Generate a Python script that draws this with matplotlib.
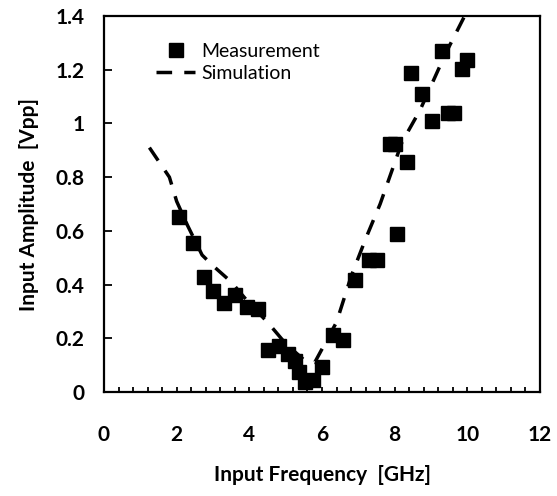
import matplotlib
matplotlib.use("Agg")
import matplotlib.pyplot as plt
from matplotlib.ticker import MultipleLocator, FuncFormatter

meas_x = [2.06, 2.46, 2.75, 3.01, 3.30, 3.60, 3.93, 4.24, 4.52, 4.82, 5.07, 5.25, 5.38, 5.53, 5.76, 6.00,
          6.29, 6.59, 6.91, 7.28, 7.50, 7.87, 8.01, 8.07, 8.33, 8.44, 8.74, 9.02, 9.29, 9.48, 9.62, 9.84, 9.98]
meas_y = [0.653, 0.556, 0.427, 0.376, 0.333, 0.361, 0.318, 0.308, 0.156, 0.172, 0.141, 0.115, 0.076, 0.038, 0.045, 0.093,
          0.212, 0.194, 0.417, 0.491, 0.491, 0.923, 0.923, 0.588, 0.855, 1.189, 1.109, 1.010, 1.271, 1.038, 1.038, 1.201, 1.236]

sim_x = [1.25, 1.8, 2.0, 2.3, 2.7, 3.0, 3.5, 4.0, 4.5, 5.0, 5.5, 5.8, 6.0, 6.4, 6.8, 7.2, 7.6, 8.2, 8.7, 9.4, 10.0]
sim_y = [0.91, 0.80, 0.71, 0.62, 0.51, 0.47, 0.41, 0.33, 0.26, 0.18, 0.12, 0.11, 0.16, 0.26, 0.43, 0.57, 0.70, 0.93, 1.05, 1.26, 1.42]

plt.rcParams['font.family'] = ['Lato', 'DejaVu Sans']

fig = plt.figure(figsize=(5.57, 4.96), dpi=100)
ax = fig.add_axes([0.1867, 0.2097, 0.7828, 0.758])

ax.plot(sim_x, sim_y, color='black', lw=2.5, dashes=(4.5, 3.5), label='Simulation', zorder=2)
ax.plot(meas_x, meas_y, 's', color='black', ms=9.5, label='Measurement', zorder=3, clip_on=False)

ax.set_xlim(0, 12)
ax.set_ylim(0, 1.4)
ax.xaxis.set_major_locator(MultipleLocator(2))
ax.xaxis.set_minor_locator(MultipleLocator(0.4))
ax.yaxis.set_major_locator(MultipleLocator(0.2))
ax.yaxis.set_major_formatter(FuncFormatter(lambda v, p: ('%.1f' % v).rstrip('0').rstrip('.') if v != 0 else '0'))

for s in ax.spines.values():
    s.set_linewidth(1.6)

ax.tick_params(axis='x', which='both', direction='in', length=3.5, width=1.3, pad=24, labelsize=15)
ax.tick_params(axis='y', which='major', direction='in', length=5.5, width=1.3, pad=14, labelsize=15)
for lab in ax.get_xticklabels() + ax.get_yticklabels():
    lab.set_fontweight('bold')

ax.set_xlabel('Input Frequency  [GHz]', fontsize=15, fontweight='bold', labelpad=14)
ax.set_ylabel('Input Amplitude  [Vpp]', fontsize=15, fontweight='bold', labelpad=12)

h, l = ax.get_legend_handles_labels()
leg = ax.legend([h[1], h[0]], [l[1], l[0]], loc='upper left', bbox_to_anchor=(0.08, 0.975),
                frameon=False, fontsize=14, handlelength=2.0, handletextpad=0.3, labelspacing=0.25)

fig.savefig('out.png', dpi=100)
